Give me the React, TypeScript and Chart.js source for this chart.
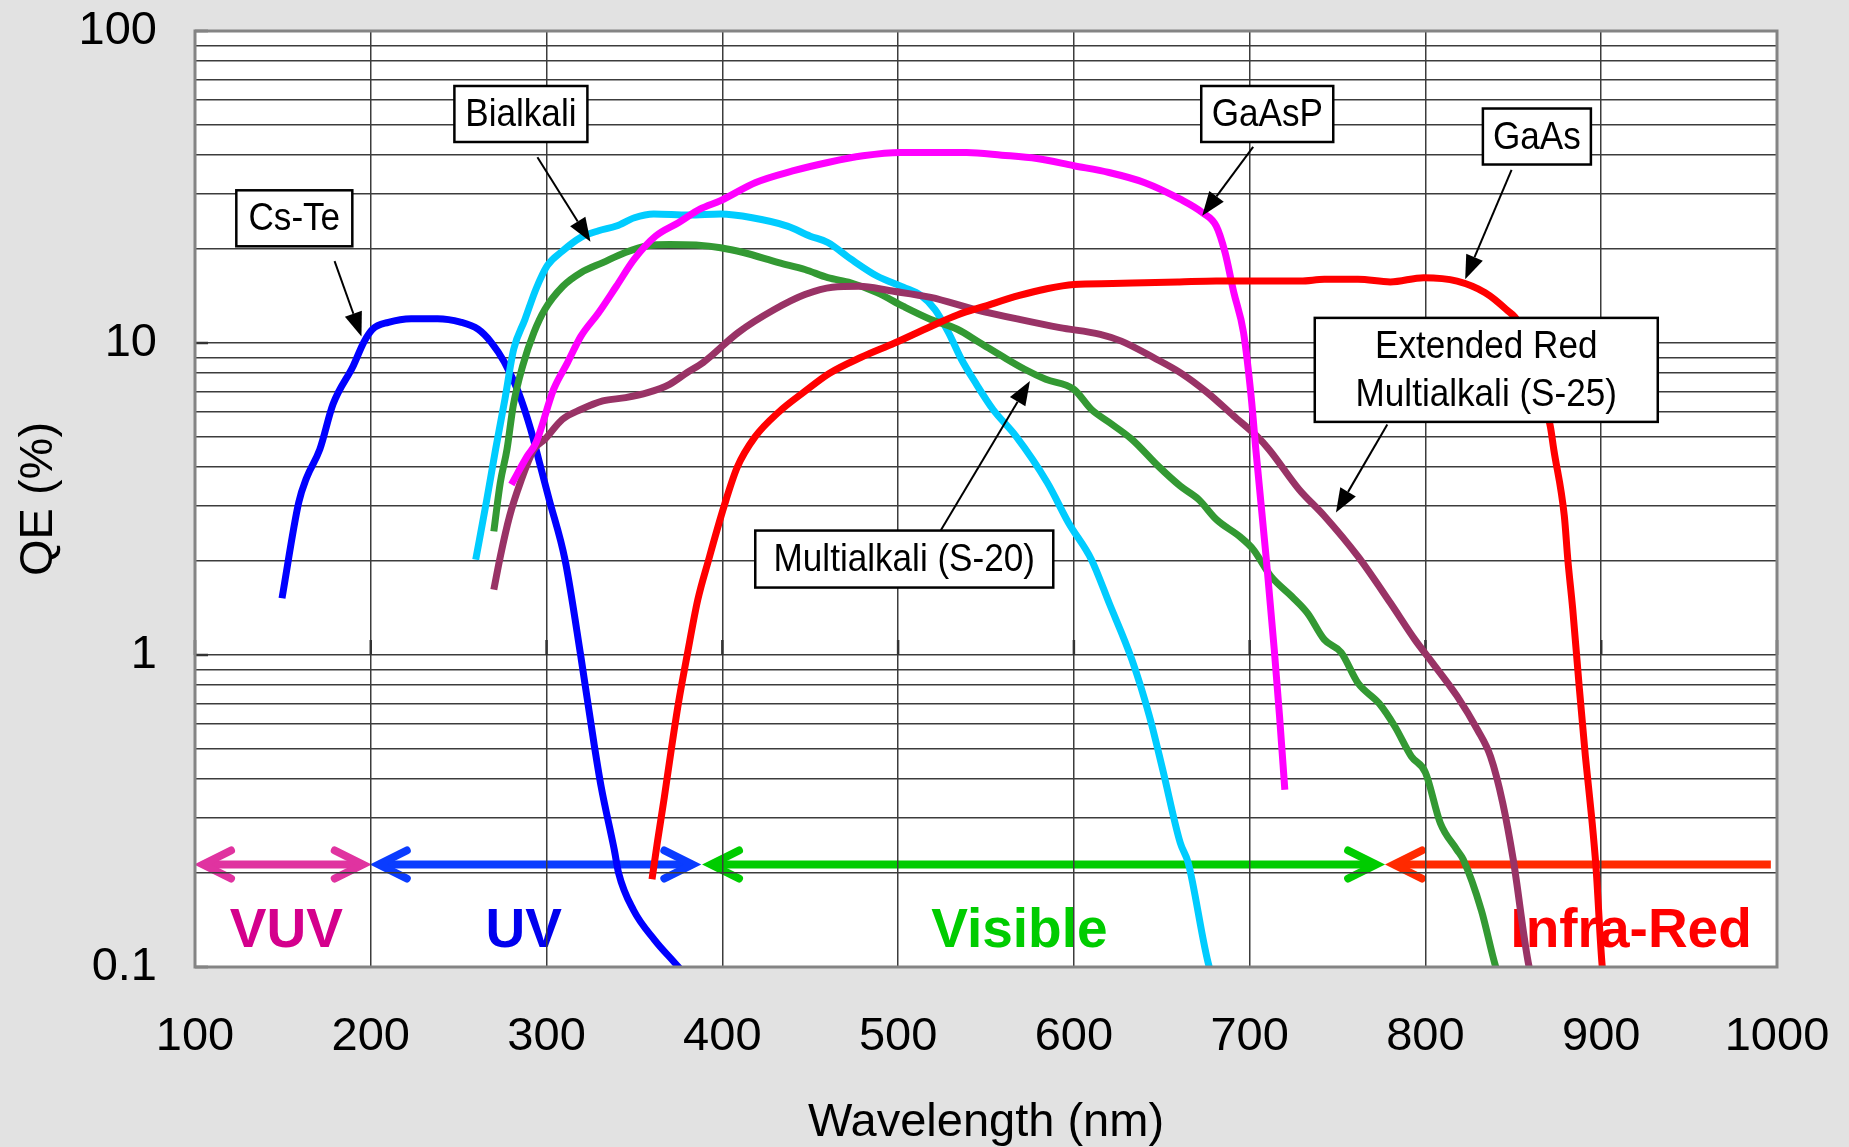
import { useEffect, useRef } from "react";
import { Chart, registerables } from "chart.js";

Chart.register(...registerables);

const FONT = "'Liberation Sans', Arial, Helvetica, sans-serif";
const WIDTH = 1849;
const HEIGHT = 1147;

// ---- axes -------------------------------------------------------------
const wavelengthTicks = [100, 200, 300, 400, 500, 600, 700, 800, 900, 1000];
const qeGridValues = [
  0.1, 0.2, 0.3, 0.4, 0.5, 0.6, 0.7, 0.8, 0.9,
  1, 2, 3, 4, 5, 6, 7, 8, 9,
  10, 20, 30, 40, 50, 60, 70, 80, 90,
  100,
];
const qeLabelValues = [0.1, 1, 10, 100];
const qeLabelTexts = ["0.1", "1", "10", "100"];

// ---- photocathode QE curves (wavelength nm, QE %) ----------------------
const csTeNm = [149.5, 159, 163.5, 171, 178.5, 190, 196, 201, 210, 223, 238, 251, 261, 268.5, 276, 284, 291, 296.5, 301.5, 310.5, 319.5, 327, 331, 338.5, 341, 349.5, 361.5, 375, 385];
const csTeQe = [1.52, 3.08, 3.7, 4.56, 6.36, 8.44, 10.05, 11.07, 11.65, 11.97, 11.97, 11.67, 11.07, 10.05, 8.68, 6.95, 5.28, 4.03, 3.15, 2.02, 0.99, 0.52, 0.38, 0.238, 0.2, 0.152, 0.122, 0.1, 0.085];

const bialkaliNm = [259.7, 266, 271, 276.3, 281.3, 287.7, 294, 300.4, 309, 319.5, 329.6, 339.7, 350, 361, 381, 399, 417, 437, 450, 460, 473, 488, 503, 513, 521, 528.7, 536, 544, 554, 567, 585, 597, 610, 620, 633, 643, 650.5, 660.5, 665, 677, 680];
const bialkaliQe = [2.02, 3.15, 4.56, 6.6, 9.55, 11.9, 14.9, 17.7, 19.7, 21.8, 22.9, 23.7, 25.2, 25.9, 25.7, 25.9, 25.2, 23.7, 22, 21, 18.6, 16.4, 15.1, 14.2, 12.8, 10.8, 8.87, 7.46, 6.12, 5.03, 3.56, 2.65, 2.02, 1.47, 0.966, 0.636, 0.43, 0.25, 0.216, 0.1, 0.092];

const s20Nm = [270, 273.7, 277.5, 281, 286.4, 292.8, 299, 309.3, 319.5, 332, 344.8, 357.5, 370, 385, 399, 412, 432, 447, 460, 473, 488, 503, 518.6, 533.7, 546.5, 559, 572, 584, 600, 610, 620, 633, 648, 660.5, 671, 681, 695, 702, 712, 724, 733, 742.5, 752, 761.6, 773.6, 782.6, 792, 800, 808.5, 817.8, 821.5, 831.8, 840, 843];
const s20Qe = [2.49, 3.57, 4.56, 6.28, 8.44, 10.8, 12.8, 15.2, 16.8, 18.1, 19.5, 20.5, 20.7, 20.6, 20.2, 19.5, 18.1, 17.2, 16.2, 15.6, 14.5, 13.1, 11.9, 11.07, 10.02, 9.08, 8.24, 7.65, 7.1, 6.12, 5.57, 4.91, 4.03, 3.48, 3.15, 2.72, 2.38, 2.18, 1.79, 1.54, 1.36, 1.12, 1.02, 0.813, 0.7, 0.59, 0.473, 0.42, 0.289, 0.238, 0.221, 0.152, 0.1, 0.09];

const s25Nm = [270, 273.7, 279, 285, 292.8, 299, 309, 319.5, 332, 345, 357.5, 370, 380, 389, 409, 429.6, 447, 462.6, 478, 495.6, 518.6, 544, 569, 592, 615, 627, 645.5, 660.5, 676, 691, 704, 711, 728, 742.5, 761.6, 780, 794, 804, 818, 829.5, 837, 844, 850, 859, 862];
const s25Qe = [1.62, 2.07, 2.79, 3.56, 4.56, 4.91, 5.69, 6.12, 6.52, 6.68, 6.93, 7.37, 8.04, 8.65, 10.8, 12.8, 14.3, 15.1, 15.2, 14.7, 14.0, 12.8, 11.9, 11.2, 10.66, 10.14, 8.97, 8.04, 6.93, 5.83, 5.03, 4.56, 3.4, 2.79, 2.07, 1.47, 1.12, 0.944, 0.738, 0.577, 0.473, 0.335, 0.22, 0.1, 0.09];

const gaAsPNm = [280, 289, 294, 304, 312, 319.5, 329.6, 339.7, 350, 362, 375, 387.5, 399, 419, 440, 460, 480, 501, 521, 539, 559, 579, 600, 620, 640, 660.5, 673, 681, 686, 691, 696.5, 701, 703.5, 709.5, 714, 717, 720];
const gaAsPQe = [3.52, 4.34, 4.79, 7.1, 8.67, 10.5, 12.5, 15.2, 18.6, 22, 24.3, 26.9, 28.6, 32.7, 35.6, 37.9, 39.8, 40.8, 40.8, 40.8, 40, 39, 37, 35.2, 32.7, 28.9, 26.2, 23.7, 19.5, 14.5, 10.8, 6.6, 4.56, 2.02, 1.04, 0.636, 0.37];

const gaAsNm = [360, 363, 367, 371, 375, 380, 386, 392, 401, 408.5, 418.6, 432, 447, 461, 479, 498, 518.6, 533.7, 549, 569, 584, 600, 622, 640, 660, 681, 701, 729, 742.5, 761.6, 780, 799, 818, 834, 846, 853, 871, 873, 879, 881, 883.8, 887.3, 891, 894.5, 897, 900.6, 902];
const gaAsQe = [0.191, 0.25, 0.35, 0.5, 0.7, 1.0, 1.5, 2.0, 3.0, 4.0, 5.0, 6.0, 7.0, 8.0, 9.0, 10.0, 11.3, 12.3, 13.1, 14.2, 14.9, 15.4, 15.5, 15.6, 15.7, 15.8, 15.8, 15.8, 16.0, 16.0, 15.7, 16.2, 15.8, 14.5, 12.8, 11.6, 5.42, 4.56, 2.79, 2.02, 1.4, 0.813, 0.473, 0.304, 0.21, 0.1, 0.09];

// drawn bottom to top
const series = [
  { name: "Cs-Te", nm: csTeNm, qe: csTeQe, color: "#0000ff" },
  { name: "Bialkali", nm: bialkaliNm, qe: bialkaliQe, color: "#00ccff" },
  { name: "Multialkali (S-20)", nm: s20Nm, qe: s20Qe, color: "#339933" },
  { name: "Extended Red Multialkali (S-25)", nm: s25Nm, qe: s25Qe, color: "#993366" },
  { name: "GaAsP", nm: gaAsPNm, qe: gaAsPQe, color: "#ff00ff" },
  { name: "GaAs", nm: gaAsNm, qe: gaAsQe, color: "#ff0000" },
];

// ---- callout labels: box centre, arrow start and arrow tip in (nm, %) --
const callouts = [
  { lines: ["Cs-Te"], at: [156.5, 25.1], w: 116, h: 56, from: [179.4, 18.3], to: [194.7, 10.5] },
  { lines: ["Bialkali"], at: [285.4, 54.2], w: 133, h: 56, from: [294.8, 39.4], to: [325, 21.1] },
  { lines: ["GaAsP"], at: [710, 54.2], w: 132, h: 56, from: [702, 42.5], to: [673, 25.6] },
  { lines: ["GaAs"], at: [863.4, 45.9], w: 108, h: 56, from: [849, 35.9], to: [822.6, 16.0] },
  { lines: ["Extended Red", "Multialkali (S-25)"], at: [834.6, 8.2], w: 343, h: 104, from: [778.3, 5.48], to: [749.1, 2.86] },
  { lines: ["Multialkali (S-20)"], at: [503.5, 2.03], w: 298, h: 57, from: [524.3, 2.51], to: [575, 7.55] },
];

// ---- spectral bands ------------------------------------------------------
const bandLevel = 0.213;
const bandLabelLevel = 0.1157;
const bands = [
  { label: "VUV", from: 100, to: 200, labelAt: 152, heads: [true, true], arrow: "#e033a0", text: "#d4008c" },
  { label: "UV", from: 200, to: 387.5, labelAt: 287, heads: [true, true], arrow: "#0a3cff", text: "#0000ee" },
  { label: "Visible", from: 389, to: 776.5, labelAt: 569, heads: [true, true], arrow: "#00cc00", text: "#00cc00" },
  { label: "Infra-Red", from: 777.5, to: 996.5, labelAt: 917, heads: [true, false], arrow: "#ff2a00", text: "#ff0000" },
];

function chevron(ctx: CanvasRenderingContext2D, tipX: number, y: number, dir: number) {
  // dir -1: points left, +1: points right
  const vx = tipX - dir * 8;
  ctx.beginPath();
  ctx.moveTo(vx - dir * 28, y - 14);
  ctx.lineTo(vx, y);
  ctx.lineTo(vx - dir * 28, y + 14);
  ctx.stroke();
}

function pointer(ctx: CanvasRenderingContext2D, x0: number, y0: number, x1: number, y1: number) {
  const ang = Math.atan2(y1 - y0, x1 - x0);
  const L = 24;
  const hw = 9;
  const bx = x1 - L * Math.cos(ang);
  const by = y1 - L * Math.sin(ang);
  ctx.beginPath();
  ctx.moveTo(x0, y0);
  ctx.lineTo(bx, by);
  ctx.stroke();
  ctx.beginPath();
  ctx.moveTo(x1, y1);
  ctx.lineTo(bx + hw * Math.sin(ang), by - hw * Math.cos(ang));
  ctx.lineTo(bx - hw * Math.sin(ang), by + hw * Math.cos(ang));
  ctx.closePath();
  ctx.fill();
}

const decorPlugin = {
  id: "qeDecor",
  beforeDraw(chart: any) {
    const { ctx, chartArea: a } = chart;
    const x = chart.scales.x;
    const y = chart.scales.y;
    ctx.save();
    ctx.fillStyle = "#e2e2e2";
    ctx.fillRect(0, 0, chart.width, chart.height);
    ctx.fillStyle = "#ffffff";
    ctx.fillRect(a.left, a.top, a.right - a.left, a.bottom - a.top);

    // band arrows and names sit under the grid
    const by = y.getPixelForValue(bandLevel);
    const ly = y.getPixelForValue(bandLabelLevel);
    for (const b of bands) {
      const x0 = x.getPixelForValue(b.from);
      const x1 = x.getPixelForValue(b.to);
      ctx.strokeStyle = b.arrow;
      ctx.lineWidth = 8;
      ctx.lineCap = "butt";
      ctx.beginPath();
      ctx.moveTo(x0 + (b.heads[0] ? 8 : 0), by);
      ctx.lineTo(x1 - (b.heads[1] ? 8 : 0), by);
      ctx.stroke();
      ctx.lineCap = "round";
      ctx.lineJoin = "miter";
      if (b.heads[0]) chevron(ctx, x0, by, -1);
      if (b.heads[1]) chevron(ctx, x1, by, 1);

      ctx.fillStyle = b.text;
      ctx.font = `bold 55px ${FONT}`;
      ctx.textAlign = "center";
      ctx.textBaseline = "alphabetic";
      ctx.fillText(b.label, x.getPixelForValue(b.labelAt), ly);
    }
    ctx.restore();
  },
  beforeDatasetsDraw(chart: any) {
    const { ctx, chartArea: a } = chart;
    const x = chart.scales.x;
    const y = chart.scales.y;
    ctx.save();
    ctx.strokeStyle = "#333333";
    ctx.lineWidth = 2.5;
    // inner tick marks at each decade
    for (const v of qeLabelValues) {
      const py = y.getPixelForValue(v);
      ctx.beginPath();
      ctx.moveTo(a.left, py);
      ctx.lineTo(a.left + 13, py);
      ctx.stroke();
    }
    // wavelength axis crossing at QE = 1 %
    const cy = y.getPixelForValue(1);
    for (const v of wavelengthTicks) {
      const px = x.getPixelForValue(v);
      ctx.beginPath();
      ctx.moveTo(px, cy);
      ctx.lineTo(px, cy - 15);
      ctx.stroke();
    }
    ctx.restore();
  },
  afterDatasetsDraw(chart: any) {
    const { ctx, chartArea: a } = chart;
    const x = chart.scales.x;
    const y = chart.scales.y;
    ctx.save();
    // plot frame
    ctx.strokeStyle = "#848484";
    ctx.lineWidth = 3;
    ctx.strokeRect(a.left, a.top, a.right - a.left, a.bottom - a.top);

    // callouts
    for (const c of callouts) {
      const cx = x.getPixelForValue(c.at[0]);
      const cy = y.getPixelForValue(c.at[1]);
      ctx.fillStyle = "#ffffff";
      ctx.fillRect(cx - c.w / 2, cy - c.h / 2, c.w, c.h);
      ctx.strokeStyle = "#000000";
      ctx.lineWidth = 2.5;
      ctx.strokeRect(cx - c.w / 2, cy - c.h / 2, c.w, c.h);
      ctx.fillStyle = "#000000";
      ctx.font = `39px ${FONT}`;
      ctx.textAlign = "center";
      ctx.textBaseline = "alphabetic";
      const n = c.lines.length;
      c.lines.forEach((line, i) => {
        const lineY = cy + (i - (n - 1) / 2) * 48 + 12;
        ctx.save();
        ctx.translate(cx, lineY);
        ctx.scale(0.9, 1);
        ctx.fillText(line, 0, 0);
        ctx.restore();
      });
      ctx.lineWidth = 2;
      pointer(
        ctx,
        x.getPixelForValue(c.from[0]),
        y.getPixelForValue(c.from[1]),
        x.getPixelForValue(c.to[0]),
        y.getPixelForValue(c.to[1])
      );
    }
    ctx.restore();
  },
  afterDraw(chart: any) {
    const { ctx, chartArea: a } = chart;
    ctx.save();
    ctx.fillStyle = "#000000";
    ctx.font = `47px ${FONT}`;
    ctx.textAlign = "center";
    ctx.textBaseline = "alphabetic";
    ctx.fillText("Wavelength (nm)", (a.left + a.right) / 2, a.bottom + 169);
    ctx.translate(52, (a.top + a.bottom) / 2);
    ctx.rotate(-Math.PI / 2);
    ctx.fillText("QE (%)", 0, 0);
    ctx.restore();
  },
};

export default function App() {
  const canvasRef = useRef<HTMLCanvasElement | null>(null);

  useEffect(() => {
    const canvas = canvasRef.current;
    if (!canvas) return;
    const datasets = series.map((s, i) => ({
      label: s.name,
      data: s.nm.map((nm, k) => ({ x: nm, y: s.qe[k] })),
      borderColor: s.color,
      backgroundColor: s.color,
      borderWidth: 7,
      pointRadius: 0,
      fill: false,
      cubicInterpolationMode: "monotone" as const,
      borderCapStyle: "butt" as const,
      borderJoinStyle: "round" as const,
      clip: 0,
      order: series.length - i,
    }));

    const chart = new Chart(canvas, {
      type: "line",
      data: { datasets },
      options: {
        animation: false,
        responsive: false,
        maintainAspectRatio: false,
        devicePixelRatio: 1,
        events: [],
        layout: { padding: { top: 31, right: 72, bottom: 0, left: 0 } },
        plugins: { legend: { display: false }, tooltip: { enabled: false } },
        scales: {
          x: {
            type: "linear",
            min: 100,
            max: 1000,
            afterBuildTicks: (scale: any) => {
              scale.ticks = wavelengthTicks.map((v) => ({ value: v }));
            },
            afterFit: (scale: any) => {
              scale.height = 180;
              scale.paddingLeft = 0;
              scale.paddingRight = 0;
            },
            ticks: {
              autoSkip: false,
              maxRotation: 0,
              padding: 42,
              color: "#000000",
              font: { family: FONT, size: 47 },
              callback: (v: any) => String(v),
            },
            grid: { color: "#3c3c3c", lineWidth: 1.5, drawTicks: false },
            border: { display: false },
          },
          y: {
            type: "logarithmic",
            min: 0.1,
            max: 100,
            afterBuildTicks: (scale: any) => {
              scale.ticks = qeGridValues.map((v) => ({ value: v }));
            },
            afterFit: (scale: any) => {
              scale.width = 195;
              scale.paddingTop = 0;
              scale.paddingBottom = 0;
            },
            ticks: {
              autoSkip: false,
              padding: 38,
              color: "#000000",
              font: { family: FONT, size: 47 },
              callback: (v: any) => {
                const i = qeLabelValues.indexOf(Number(v));
                return i >= 0 ? qeLabelTexts[i] : "";
              },
            },
            grid: { color: "#3c3c3c", lineWidth: 1.5, drawTicks: false },
            border: { display: false },
          },
        },
      },
      plugins: [decorPlugin],
    });

    return () => {
      chart.destroy();
    };
  }, []);

  return (
    <div
      style={{
        position: "fixed",
        left: 0,
        top: 0,
        width: WIDTH,
        height: HEIGHT,
        background: "#e2e2e2",
      }}
    >
      <canvas
        ref={canvasRef}
        width={WIDTH}
        height={HEIGHT}
        style={{ display: "block", width: WIDTH, height: HEIGHT }}
      />
    </div>
  );
}
